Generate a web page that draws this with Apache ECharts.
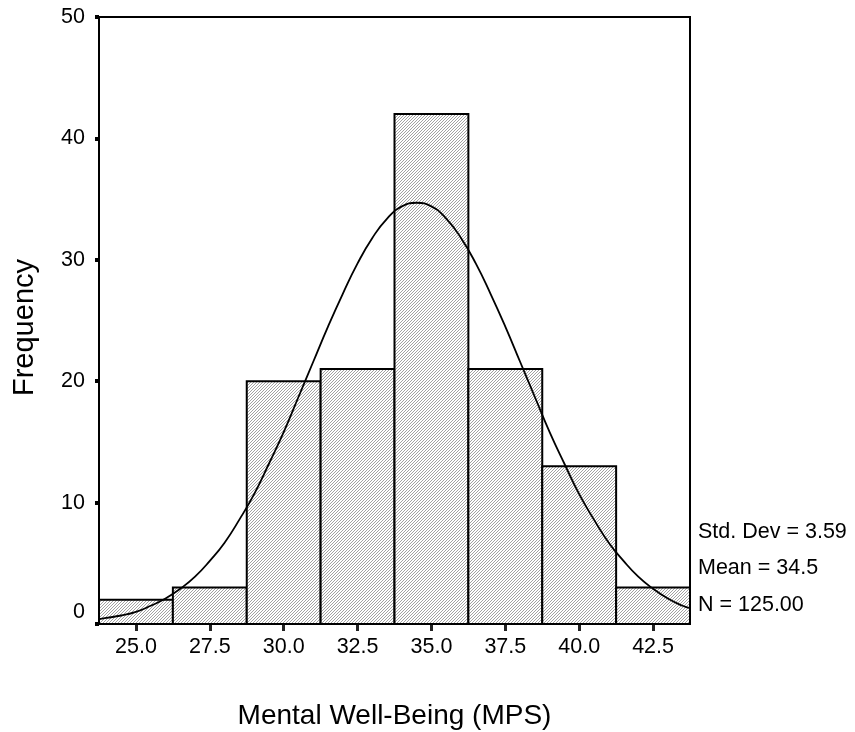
<!DOCTYPE html>
<html>
<head>
<meta charset="utf-8">
<script src="https://cdn.jsdelivr.net/npm/echarts@6/dist/echarts.min.js"></script>
<style>
  html, body { margin: 0; padding: 0; background: #fff; }
  #chart { width: 855px; height: 732px; }
</style>
</head>
<body>
<div id="chart"></div>
<script>
// ---- data ----
const binCenters = [25.0, 27.5, 30.0, 32.5, 35.0, 37.5, 40.0, 42.5];
const frequencies = [2, 3, 20, 21, 42, 21, 13, 3];
const binWidth = 2.5;
const xTickValues = [25.0, 27.5, 30.0, 32.5, 35.0, 37.5, 40.0, 42.5];
const curveX = [23.75, 24, 24.5, 25, 25.5, 26, 26.5, 27, 27.5, 28, 28.5, 29, 29.5, 30, 30.5, 31, 31.5, 32, 32.5, 33, 33.5, 34, 34.5,
                35, 35.5, 36, 36.5, 37, 37.5, 38, 38.5, 39, 39.5, 40, 40.5, 41, 41.5, 42, 42.5, 43, 43.5, 43.75];
const curveY = [0.4, 0.5, 0.7, 1.0, 1.5, 2.1, 2.9, 3.9, 5.2, 6.7, 8.6, 10.7, 13.2, 15.8, 18.7, 21.6, 24.5, 27.2, 29.7, 31.8, 33.4, 34.4, 34.7,
                34.4, 33.4, 31.8, 29.7, 27.2, 24.5, 21.6, 18.7, 15.8, 13.2, 10.7, 8.6, 6.7, 5.2, 3.9, 2.9, 2.1, 1.5, 1.3];
const statLines = ['Std. Dev = 3.59', 'Mean = 34.5', 'N = 125.00'];
const xAxisTitle = 'Mental Well-Being (MPS)';
const yAxisTitle = 'Frequency';

// ---- hatch pattern ----
const pc = document.createElement('canvas');
pc.width = 3; pc.height = 3;
const pctx = pc.getContext('2d');
pctx.fillStyle = '#ffffff';
pctx.fillRect(0, 0, 3, 3);
pctx.fillStyle = '#a2a2a2';
for (let i = 0; i < 3; i++) pctx.fillRect(i, 2 - i, 1, 1);
const hatch = { image: pc, repeat: 'repeat' };

const FONT = '"Liberation Sans", Arial, sans-serif';

const barData = binCenters.map((c, i) => [c - binWidth / 2, c + binWidth / 2, frequencies[i]]);
const curveData = curveX.map((x, i) => [x, curveY[i]]);

const chart = echarts.init(document.getElementById('chart'), null, { renderer: 'canvas' });
chart.setOption({
  animation: false,
  backgroundColor: '#ffffff',
  grid: { left: 99, right: 165, top: 17, bottom: 108, containLabel: false, outerBoundsMode: 'none',
          show: true, borderColor: '#000', borderWidth: 2, backgroundColor: 'transparent' },
  xAxis: {
    type: 'value', min: 23.75, max: 43.75,
    name: xAxisTitle, nameLocation: 'middle', nameGap: 78,
    nameTextStyle: { fontFamily: FONT, fontSize: 28, color: '#000' },
    axisLine: { show: true, onZero: false, lineStyle: { color: '#000', width: 2 } },
    axisTick: { show: true, customValues: xTickValues, length: 7, lineStyle: { color: '#222', width: 3 } },
    axisLabel: { customValues: xTickValues, margin: 12, fontFamily: FONT, fontSize: 21.5, color: '#000',
                 formatter: v => v.toFixed(1) },
    splitLine: { show: false }
  },
  yAxis: {
    type: 'value', min: 0, max: 50, interval: 10,
    name: yAxisTitle, nameLocation: 'middle', nameGap: 60,
    nameTextStyle: { fontFamily: FONT, fontSize: 29, color: '#000', padding: [0, 14, 0, 0] },
    axisLine: { show: true, lineStyle: { color: '#000', width: 2 } },
    axisTick: { show: true, length: 4, lineStyle: { color: '#000', width: 4 } },
    axisLabel: { margin: 14, fontFamily: FONT, fontSize: 21.5, color: '#000',
                 formatter: v => v === 0 ? '{zero|0}' : String(v),
                 rich: { zero: { fontFamily: FONT, fontSize: 21.5, color: '#000', padding: [0, 0, 24, 0] } } },
    splitLine: { show: false }
  },
  series: [
    {
      type: 'custom',
      data: barData,
      z: 2,
      renderItem: function (params, api) {
        const p0 = api.coord([api.value(0), api.value(2)]);
        const p1 = api.coord([api.value(1), 0]);
        return {
          type: 'rect',
          shape: { x: p0[0], y: p0[1], width: p1[0] - p0[0], height: p1[1] - p0[1] },
          style: { fill: hatch, stroke: '#000', lineWidth: 2 }
        };
      }
    },
    {
      type: 'line',
      data: curveData,
      smooth: true,
      symbol: 'none',
      z: 5,
      lineStyle: { color: '#000', width: 1.8 }
    }
  ],
  graphic: statLines.map((t, i) => ({
    type: 'text', x: 698, y: 532 + i * 36.3,
    style: { text: t, font: '21.5px ' + FONT, fill: '#000', verticalAlign: 'middle' }
  }))
});
</script>
</body>
</html>
